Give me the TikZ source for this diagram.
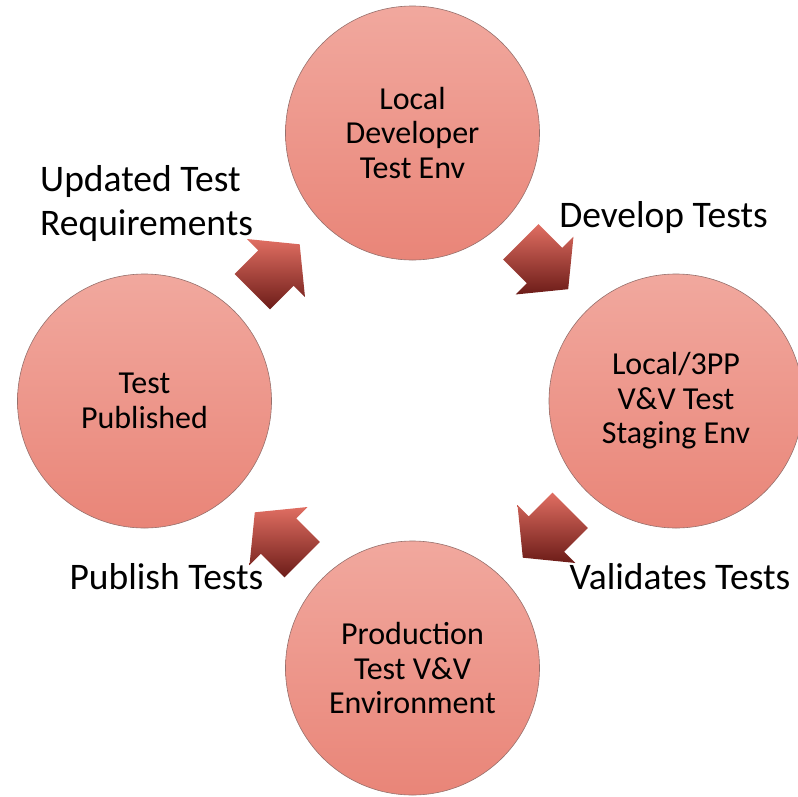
\documentclass[tikz,border=0pt]{standalone}
\usepackage{fontspec}
\setmainfont{Carlito}
\usetikzlibrary{calc}
\definecolor{circtop}{RGB}{241,168,158}
\definecolor{circbot}{RGB}{233,133,120}
\definecolor{circline}{RGB}{150,112,108}
\definecolor{arrtop}{RGB}{224,110,98}
\definecolor{arrmid}{RGB}{168,46,36}
\definecolor{arrbot}{RGB}{108,28,24}
\tikzset{
  stage/.style={circle,minimum size=254pt,inner sep=0pt,top color=circtop,bottom color=circbot,
    draw=circline,line width=0.6pt,align=center,font=\fontsize{32}{34.5}\selectfont},
  steplabel/.style={align=left,inner sep=0pt,font=\fontsize{37.5}{44}\selectfont},
  blockarrow/.style={top color=arrtop,middle color=arrmid,bottom color=arrbot}
}
\begin{document}
\begin{tikzpicture}[x=1pt,y=-1pt]
\useasboundingbox (0,0) rectangle (798,796);
\pgfmathsetmacro{\half}{33.5}%
\pgfmathsetmacro{\shaft}{25}%
\pgfmathsetmacro{\head}{41}%
\node[stage] (dev) at (412.5,133) {Local\\Developer\\Test Env};
\node[stage] (stage) at (676,401) {Local/3PP\\V\&V Test\\Staging Env};
\node[stage] (prod) at (412.5,668) {Production\\Test V\&V\\Environment};
\node[stage] (pub) at (144.5,401) {Test\\Published};
\foreach \cx/\cy/\a in {544.5/265.5/45, 276/268/-45, 546.5/534/135, 278.5/536/-135}{
  \path (\cx,\cy) coordinate (m)
    ($(m)+(\a:-\half)+(\a+90:\shaft)$) coordinate (t1)
    ($(m)+(\a+90:\shaft)$) coordinate (b1)
    ($(m)+(\a+90:\head)$) coordinate (h1)
    ($(m)+(\a:\half)$) coordinate (tip)
    ($(m)+(\a-90:\head)$) coordinate (h2)
    ($(m)+(\a-90:\shaft)$) coordinate (b2)
    ($(m)+(\a:-\half)+(\a-90:\shaft)$) coordinate (t2);
  \shade[blockarrow] (t1)--(b1)--(h1)--(tip)--(h2)--(b2)--(t2)--cycle;
}
\node[steplabel,anchor=west] (upd) at (40,203.5) {Updated Test\\Requirements};
\node[steplabel] (devt) at (663.5,217) {Develop Tests};
\node[steplabel] (valt) at (680,577) {Validates Tests};
\node[steplabel] (pubt) at (166.5,577) {Publish Tests};
\end{tikzpicture}
\end{document}
